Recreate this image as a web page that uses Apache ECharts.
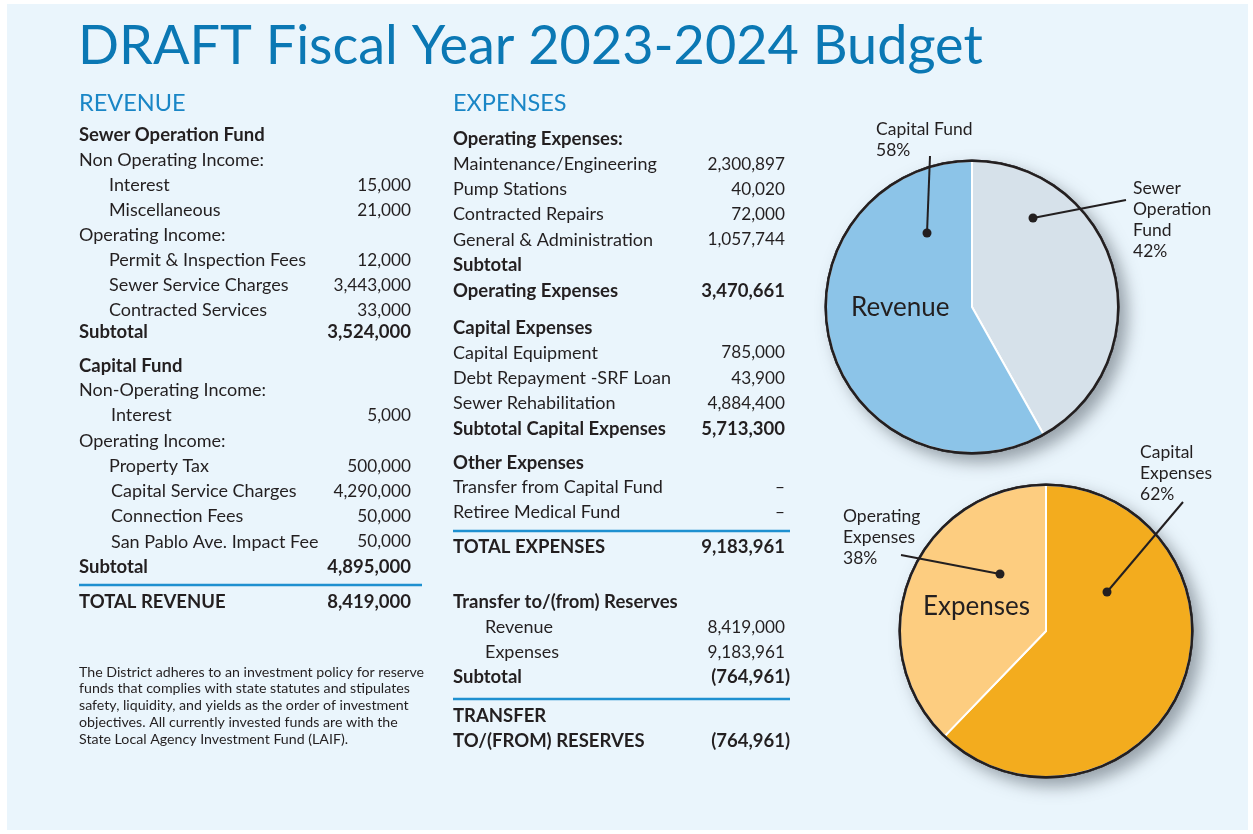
<!DOCTYPE html>
<html><head><meta charset="utf-8">
<script src="https://cdn.jsdelivr.net/npm/echarts@6/dist/echarts.min.js"></script>
<style>html,body{margin:0;padding:0;background:#fff;}#c{width:1253px;height:834px;}</style>
</head><body><div id="c"></div>
<script>
// ---------------- DATA ----------------
const titleText = 'DRAFT Fiscal Year 2023-2024 Budget';
const revenueHeading = 'REVENUE';
const expensesHeading = 'EXPENSES';

const sewerOpNonOpItems = ['Interest', 'Miscellaneous'];
const sewerOpNonOpValues = [15000, 21000];
const sewerOpOpItems = ['Permit & Inspection Fees', 'Sewer Service Charges', 'Contracted Services'];
const sewerOpOpValues = [12000, 3443000, 33000];
const sewerOpSubtotal = 3524000;

const capFundNonOpItems = ['Interest'];
const capFundNonOpValues = [5000];
const capFundOpItems = ['Property Tax', 'Capital Service Charges', 'Connection Fees', 'San Pablo Ave. Impact Fee'];
const capFundOpValues = [500000, 4290000, 50000, 50000];
const capFundSubtotal = 4895000;
const totalRevenue = 8419000;

const operatingExpItems = ['Maintenance/Engineering', 'Pump Stations', 'Contracted Repairs', 'General & Administration'];
const operatingExpValues = [2300897, 40020, 72000, 1057744];
const operatingExpSubtotal = 3470661;
const capitalExpItems = ['Capital Equipment', 'Debt Repayment -SRF Loan', 'Sewer Rehabilitation'];
const capitalExpValues = [785000, 43900, 4884400];
const capitalExpSubtotal = 5713300;
const otherExpItems = ['Transfer from Capital Fund', 'Retiree Medical Fund'];
const otherExpValues = [null, null];
const totalExpenses = 9183961;
const reserveItems = ['Revenue', 'Expenses'];
const reserveValues = [8419000, 9183961];
const reserveSubtotal = -764961;
const transferToReserves = -764961;

const footnoteLines = [
  'The District adheres to an investment policy for reserve',
  'funds that complies with state statutes and stipulates',
  'safety, liquidity, and yields as the order of investment',
  'objectives. All currently invested funds are with the',
  'State Local Agency Investment Fund (LAIF).'
];

const revenuePieNames = ['Sewer Operation Fund', 'Capital Fund'];
const revenuePieValues = [3524000, 4895000];
const revenuePieLabels = ['Sewer\nOperation\nFund', 'Capital Fund'];
const expensePieNames = ['Capital Expenses', 'Operating Expenses'];
const expensePieValues = [5713300, 3470661];
const expensePieLabels = ['Capital\nExpenses', 'Operating\nExpenses'];

// ---------------- STYLE / LAYOUT ----------------
const FONT = 'Lato, "Noto Sans", sans-serif';
const INK = '#231F20';
const BLUE_TITLE = '#0B78B4';
const BLUE_HEAD = '#1A86C6';
const RULE = '#1E90D0';
const LABEL_SIZE = 18;
const VALUE_SIZE = 17.2;
const BOLD_SIZE = 18.5;

function fmt(v) {
  if (v === null || v === undefined) return '\u2013';
  if (v < 0) return '(' + Math.abs(v).toLocaleString('en-US') + ')';
  return v.toLocaleString('en-US');
}

const els = [];
els.push({ type: 'rect', z: 0, shape: { x: 7, y: 4, width: 1241, height: 826 }, style: { fill: '#EAF5FC' } });

function txt(t, x, y, opts) {
  opts = opts || {};
  els.push({
    type: 'text', z: 100,
    style: {
      text: t, x: x, y: y,
      fill: opts.fill || INK,
      font: (opts.bold ? 'bold ' : '') + (opts.size || LABEL_SIZE) + 'px ' + FONT,
      align: opts.align || 'left', textAlign: opts.align || 'left',
      verticalAlign: opts.va || 'middle', textVerticalAlign: opts.va || 'middle',
      lineHeight: opts.lh
    }
  });
}
function row(label, value, lx, vx, y, bold, hasValue) {
  txt(label, lx, y, { bold: bold, size: bold ? BOLD_SIZE : LABEL_SIZE });
  if (hasValue) {
    const s = fmt(value);
    const paren = s.charAt(0) === '(';
    txt(s, vx + (paren ? 5 : 0), y, { bold: bold, align: 'right', size: bold ? BOLD_SIZE : VALUE_SIZE });
  }
}
function rule(x1, x2, y) {
  els.push({ type: 'line', z: 100, shape: { x1: x1, y1: y, x2: x2, y2: y }, style: { stroke: RULE, lineWidth: 2.5 } });
}

// Title
txt(titleText, 78, 47, { size: 54, fill: BLUE_TITLE });

// Revenue column
const RL = 79, RI = 109, RV = 411;
txt(revenueHeading, RL, 103, { size: 23.5, fill: BLUE_HEAD });
let y = 135;
row('Sewer Operation Fund', null, RL, RV, y, true, false); y += 25;
row('Non Operating Income:', null, RL, RV, y, false, false); y += 25;
sewerOpNonOpItems.forEach((it, i) => { row(it, sewerOpNonOpValues[i], RI, RV, y, false, true); y += 25.3; });
row('Operating Income:', null, RL, RV, y, false, false); y += 25;
sewerOpOpItems.forEach((it, i) => { row(it, sewerOpOpValues[i], RI, RV, y, false, true); y += (i < sewerOpOpItems.length - 1 ? 25 : 21); });
row('Subtotal', sewerOpSubtotal, RL, RV, y, true, true); y += 34;
row('Capital Fund', null, RL, RV, y, true, false); y += 25;
row('Non-Operating Income:', null, RL, RV, y, false, false); y += 25;
capFundNonOpItems.forEach((it, i) => { row(it, capFundNonOpValues[i], RI + 2, RV, y, false, true); y += 25.5; });
row('Operating Income:', null, RL, RV, y, false, false); y += 25;
capFundOpItems.forEach((it, i) => { row(it, capFundOpValues[i], RI + (i ? 2 : 0), RV, y, false, true); y += 25.2; });
row('Subtotal', capFundSubtotal, RL, RV, y, true, true);
rule(RL, 422, 585);
row('TOTAL REVENUE', totalRevenue, RL, RV, 602, true, true);

footnoteLines.forEach((l, i) => txt(l, RL, 672 + i * 16.8, { size: 14.2 }));

// Expenses column
const EL = 453, EI = 485, EV = 785;
txt(expensesHeading, EL, 103, { size: 23.5, fill: BLUE_HEAD });
y = 139;
row('Operating Expenses:', null, EL, EV, y, true, false); y += 25;
operatingExpItems.forEach((it, i) => { row(it, operatingExpValues[i], EL, EV, y, false, true); y += 25.3; });
row('Subtotal', null, EL, EV, y, true, false); y += 25.5;
row('Operating Expenses', operatingExpSubtotal, EL, EV, y, true, true); y += 37;
row('Capital Expenses', null, EL, EV, y, true, false); y += 25;
capitalExpItems.forEach((it, i) => { row(it, capitalExpValues[i], EL, EV, y, false, true); y += 25.3; });
row('Subtotal Capital Expenses', capitalExpSubtotal, EL, EV, y, true, true); y += 34;
row('Other Expenses', null, EL, EV, y, true, false); y += 25;
otherExpItems.forEach((it, i) => { row(it, otherExpValues[i], EL, EV, y, false, true); y += 25; });
rule(EL, 790, 531);
row('TOTAL EXPENSES', totalExpenses, EL, EV, 547, true, true);
y = 602;
row('Transfer to/(from) Reserves', null, EL, EV, y, true, false); y += 25;
reserveItems.forEach((it, i) => { row(it, reserveValues[i], EI, EV, y, false, true); y += 25; });
row('Subtotal', reserveSubtotal, EL, EV, y, true, true);
rule(EL, 790, 699);
row('TRANSFER', null, EL, EV, 716, true, false);
row('TO/(FROM) RESERVES', transferToReserves, EL, EV, 741, true, true);

// Pies
const R = 146;
const revCenter = [972, 307];
const expCenter = [1046, 631];
function pct(vals, i) { const s = vals.reduce((a, b) => a + b, 0); return Math.round(vals[i] / s * 100) + '%'; }

function pieSeries(center, names, values, colors) {
  const common = { type: 'pie', center: center, silent: true, animation: false, label: { show: false }, labelLine: { show: false }, emphasis: { disabled: true } };
  return [
    Object.assign({}, common, { z: 1, radius: R + 1.5, data: [{ value: 1, itemStyle: { color: INK, shadowBlur: 16, shadowOffsetX: 8, shadowOffsetY: 8, shadowColor: 'rgba(70,80,90,0.5)' } }] }),
    Object.assign({}, common, { z: 2, radius: R, startAngle: 90, clockwise: true,
      itemStyle: { borderColor: '#ffffff', borderWidth: 2 },
      data: names.map((n, i) => ({ name: n, value: values[i], itemStyle: { color: colors[i] } })) }),
    Object.assign({}, common, { z: 3, radius: [R - 1, R + 1.5], data: [{ value: 1, itemStyle: { color: INK } }] })
  ];
}

txt('Revenue', 851, 308, { size: 26 });
txt('Expenses', 923, 607, { size: 26 });

function callout(text, x, yTop, lx1, ly1, lx2, ly2) {
  txt(text, x, yTop, { size: 17.5, va: 'top', lh: 21 });
  els.push({ type: 'line', z: 100, shape: { x1: lx1, y1: ly1, x2: lx2, y2: ly2 }, style: { stroke: INK, lineWidth: 2 } });
  els.push({ type: 'circle', z: 100, shape: { cx: lx2, cy: ly2, r: 4.5 }, style: { fill: INK } });
}
callout(revenuePieLabels[1] + '\n' + pct(revenuePieValues, 1), 876, 119, 930, 156, 927, 233);
callout(revenuePieLabels[0] + '\n' + pct(revenuePieValues, 0), 1133, 178, 1126, 200, 1033, 218);
callout(expensePieLabels[0] + '\n' + pct(expensePieValues, 0), 1140, 442, 1183, 502, 1107, 592);
callout(expensePieLabels[1] + '\n' + pct(expensePieValues, 1), 843, 506, 901, 555, 1000, 574);

const chart = echarts.init(document.getElementById('c'), null, { renderer: 'canvas' });
chart.setOption({
  animation: false,
  backgroundColor: '#ffffff',
  series: [].concat(
    pieSeries(revCenter, revenuePieNames, revenuePieValues, ['#D6E1EA', '#8CC4E8']),
    pieSeries(expCenter, expensePieNames, expensePieValues, ['#F3AC1E', '#FDCD80'])
  ),
  graphic: { elements: els }
});
</script></body></html>
